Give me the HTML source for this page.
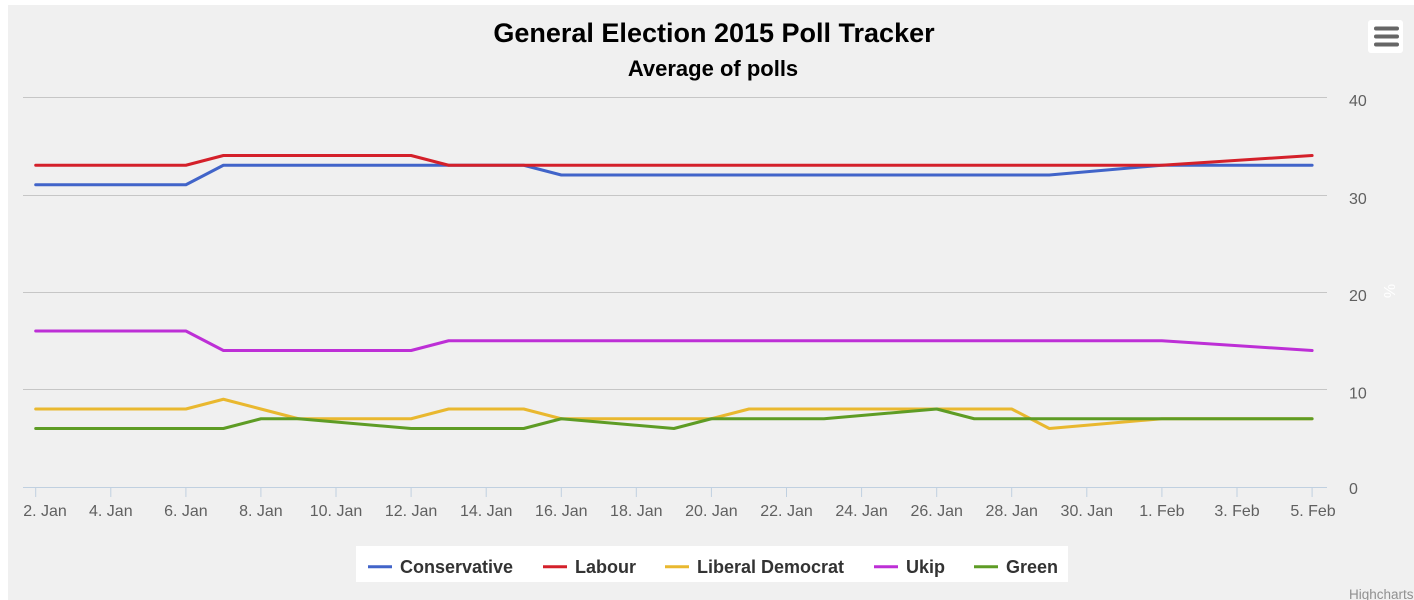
<!DOCTYPE html>
<html>
<head>
<meta charset="utf-8">
<style>
html,body{margin:0;padding:0;background:#fff;}
body{width:1414px;height:600px;overflow:hidden;}
svg{display:block;font-family:"Liberation Sans",Arial,sans-serif;}
</style>
</head>
<body>
<svg width="1414" height="600" viewBox="0 0 1414 600" xmlns="http://www.w3.org/2000/svg">
  <rect x="0" y="0" width="1414" height="600" fill="#ffffff"/>
  <rect x="8" y="5" width="1406" height="595" fill="#f0f0f0"/>

  <!-- Title -->
  <text x="714" y="42" text-anchor="middle" font-size="27" font-weight="bold" fill="#000">General Election 2015 Poll Tracker</text>
  <text x="713" y="76" text-anchor="middle" font-size="22" font-weight="bold" fill="#000">Average of polls</text>

  <!-- Menu button -->
  <rect x="1368" y="20" width="35" height="33" rx="3" fill="#ffffff"/>
  <rect x="1374" y="26.5" width="25" height="4" rx="2" fill="#666"/>
  <rect x="1374" y="34.5" width="25" height="4" rx="2" fill="#666"/>
  <rect x="1374" y="42.5" width="25" height="4" rx="2" fill="#666"/>

  <!-- Grid lines -->
  <g stroke="#c6c6c6" stroke-width="1">
    <line x1="23" y1="97.5" x2="1327" y2="97.5"/>
    <line x1="23" y1="195.5" x2="1327" y2="195.5"/>
    <line x1="23" y1="292.5" x2="1327" y2="292.5"/>
    <line x1="23" y1="389.5" x2="1327" y2="389.5"/>
  </g>
  <!-- X axis line -->
  <line x1="23" y1="487.5" x2="1327" y2="487.5" stroke="#c0d0e0" stroke-width="1"/>
  <!-- Ticks -->
  <g stroke="#c0d0e0" stroke-width="1">
    <line x1="35.7" y1="487" x2="35.7" y2="497"/>
    <line x1="110.8" y1="487" x2="110.8" y2="497"/>
    <line x1="185.9" y1="487" x2="185.9" y2="497"/>
    <line x1="260.9" y1="487" x2="260.9" y2="497"/>
    <line x1="336.0" y1="487" x2="336.0" y2="497"/>
    <line x1="411.1" y1="487" x2="411.1" y2="497"/>
    <line x1="486.2" y1="487" x2="486.2" y2="497"/>
    <line x1="561.3" y1="487" x2="561.3" y2="497"/>
    <line x1="636.3" y1="487" x2="636.3" y2="497"/>
    <line x1="711.4" y1="487" x2="711.4" y2="497"/>
    <line x1="786.5" y1="487" x2="786.5" y2="497"/>
    <line x1="861.6" y1="487" x2="861.6" y2="497"/>
    <line x1="936.7" y1="487" x2="936.7" y2="497"/>
    <line x1="1011.7" y1="487" x2="1011.7" y2="497"/>
    <line x1="1086.8" y1="487" x2="1086.8" y2="497"/>
    <line x1="1161.9" y1="487" x2="1161.9" y2="497"/>
    <line x1="1237.0" y1="487" x2="1237.0" y2="497"/>
    <line x1="1312.1" y1="487" x2="1312.1" y2="497"/>
  </g>

  <!-- X labels -->
  <g font-size="16" fill="#606060" text-anchor="middle">
    <text x="45" y="516">2. Jan</text>
    <text x="110.8" y="516">4. Jan</text>
    <text x="185.9" y="516">6. Jan</text>
    <text x="260.9" y="516">8. Jan</text>
    <text x="336.0" y="516">10. Jan</text>
    <text x="411.1" y="516">12. Jan</text>
    <text x="486.2" y="516">14. Jan</text>
    <text x="561.3" y="516">16. Jan</text>
    <text x="636.3" y="516">18. Jan</text>
    <text x="711.4" y="516">20. Jan</text>
    <text x="786.5" y="516">22. Jan</text>
    <text x="861.6" y="516">24. Jan</text>
    <text x="936.7" y="516">26. Jan</text>
    <text x="1011.7" y="516">28. Jan</text>
    <text x="1086.8" y="516">30. Jan</text>
    <text x="1161.9" y="516">1. Feb</text>
    <text x="1237.0" y="516">3. Feb</text>
    <text x="1313" y="516">5. Feb</text>
  </g>

  <!-- Y labels -->
  <g font-size="16" fill="#606060" text-anchor="start">
    <text x="1349" y="106">40</text>
    <text x="1349" y="204">30</text>
    <text x="1349" y="301">20</text>
    <text x="1349" y="398.5">10</text>
    <text x="1349" y="494">0</text>
  </g>
  <text x="1389" y="291" font-size="16" fill="#ffffff" text-anchor="middle" transform="rotate(90 1389 291)" dy="5">%</text>

  <!-- Series -->
  <g fill="none" stroke-width="3" stroke-linejoin="round" stroke-linecap="round">
    <!-- Conservative -->
    <polyline stroke="#4164c9" points="35.7,184.75 185.9,184.75 223.4,165.25 523.7,165.25 561.3,175 1049.3,175 1161.9,165.25 1312.1,165.25"/>
    <!-- Labour -->
    <polyline stroke="#d4202a" points="35.7,165.25 185.9,165.25 223.4,155.5 411.1,155.5 448.6,165.25 1161.9,165.25 1312.1,155.5"/>
    <!-- Liberal Democrat -->
    <polyline stroke="#e9b82f" points="35.7,409 185.9,409 223.4,399.25 260.9,409 298.5,418.75 411.1,418.75 448.6,409 523.7,409 561.3,418.75 711.4,418.75 749.0,409 1011.7,409 1049.3,428.5 1161.9,418.75 1312.1,418.75"/>
    <!-- Ukip -->
    <polyline stroke="#bd2fd6" points="35.7,331 185.9,331 223.4,350.5 411.1,350.5 448.6,340.75 1161.9,340.75 1312.1,350.5"/>
    <!-- Green -->
    <polyline stroke="#5e9c25" points="35.7,428.5 223.4,428.5 261.0,418.75 298.5,418.75 411.1,428.5 523.7,428.5 561.3,418.75 673.9,428.5 711.4,418.75 824.0,418.75 936.7,409 974.2,418.75 1312.1,418.75"/>
  </g>

  <!-- Legend -->
  <rect x="356" y="546" width="712" height="36" fill="#ffffff"/>
  <g stroke-width="3" fill="none">
    <line x1="368" y1="566.7" x2="392" y2="566.7" stroke="#4164c9"/>
    <line x1="543" y1="566.7" x2="567" y2="566.7" stroke="#d4202a"/>
    <line x1="665" y1="566.7" x2="689" y2="566.7" stroke="#e9b82f"/>
    <line x1="874" y1="566.7" x2="898" y2="566.7" stroke="#bd2fd6"/>
    <line x1="974" y1="566.7" x2="998" y2="566.7" stroke="#5e9c25"/>
  </g>
  <g font-size="18" font-weight="bold" fill="#333333">
    <text x="400" y="573">Conservative</text>
    <text x="575" y="573">Labour</text>
    <text x="697" y="573">Liberal Democrat</text>
    <text x="906" y="573">Ukip</text>
    <text x="1006" y="573">Green</text>
  </g>

  <!-- Credits -->
  <text x="1349" y="599" font-size="13.5" fill="#909090">Highcharts</text>
</svg>
</body>
</html>
